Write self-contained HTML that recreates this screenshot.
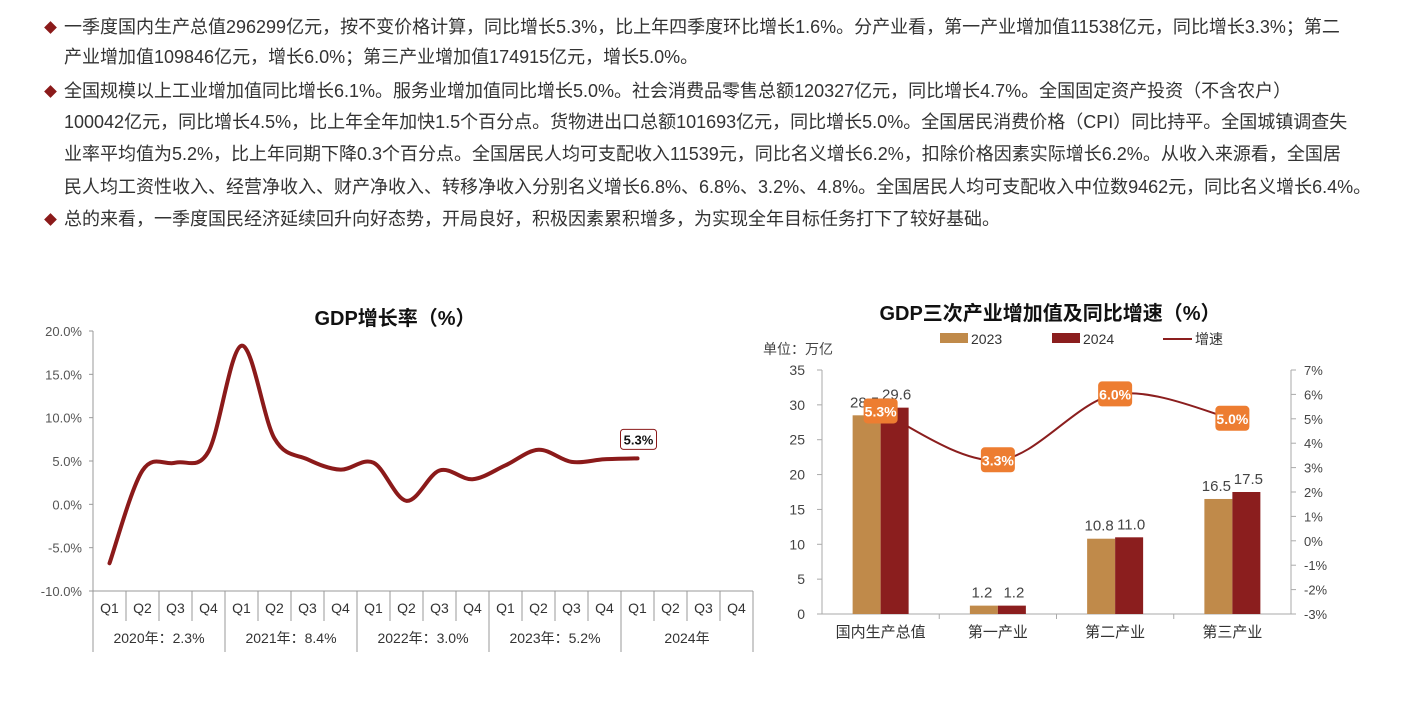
<!DOCTYPE html>
<html><head><meta charset="utf-8">
<style>
html,body{margin:0;padding:0;background:#fff;}
body{width:1403px;height:716px;position:relative;overflow:hidden;font-family:"Liberation Sans","Noto Sans CJK SC",sans-serif;}
.ln{position:absolute;left:64px;font-size:18px;color:#333;white-space:nowrap;line-height:20px;}
.bul{position:absolute;left:46px;width:9px;height:9px;background:#8b1a1a;transform:rotate(45deg);}
svg text{font-family:"Liberation Sans","Noto Sans CJK SC",sans-serif;}
</style></head>
<body>
<div>
<div class="bul" style="top:23px"></div>
<div class="ln" style="top:17px">一季度国内生产总值296299亿元，按不变价格计算，同比增长5.3%，比上年四季度环比增长1.6%。分产业看，第一产业增加值11538亿元，同比增长3.3%；第二</div>
<div class="ln" style="top:47px">产业增加值109846亿元，增长6.0%；第三产业增加值174915亿元，增长5.0%。</div>
<div class="bul" style="top:87px"></div>
<div class="ln" style="top:81px">全国规模以上工业增加值同比增长6.1%。服务业增加值同比增长5.0%。社会消费品零售总额120327亿元，同比增长4.7%。全国固定资产投资（不含农户）</div>
<div class="ln" style="top:112px">100042亿元，同比增长4.5%，比上年全年加快1.5个百分点。货物进出口总额101693亿元，同比增长5.0%。全国居民消费价格（CPI）同比持平。全国城镇调查失</div>
<div class="ln" style="top:144px">业率平均值为5.2%，比上年同期下降0.3个百分点。全国居民人均可支配收入11539元，同比名义增长6.2%，扣除价格因素实际增长6.2%。从收入来源看，全国居</div>
<div class="ln" style="top:177px">民人均工资性收入、经营净收入、财产净收入、转移净收入分别名义增长6.8%、6.8%、3.2%、4.8%。全国居民人均可支配收入中位数9462元，同比名义增长6.4%。</div>
<div class="bul" style="top:215px"></div>
<div class="ln" style="top:209px">总的来看，一季度国民经济延续回升向好态势，开局良好，积极因素累积增多，为实现全年目标任务打下了较好基础。</div>
</div>

<svg id="c1" width="1403" height="716" style="position:absolute;left:0;top:0"></svg>

<script>
const quarters=["Q1","Q2","Q3","Q4","Q1","Q2","Q3","Q4","Q1","Q2","Q3","Q4","Q1","Q2","Q3","Q4","Q1","Q2","Q3","Q4"];
const yearLabels=["2020年：2.3%","2021年：8.4%","2022年：3.0%","2023年：5.2%","2024年"];
const growth=[-6.8,3.9,4.8,6.1,18.3,7.6,5.2,4.0,4.8,0.4,3.9,2.9,4.5,6.3,4.9,5.2,5.3];
const yTicks=[20,15,10,5,0,-5,-10];

const inds=["国内生产总值","第一产业","第二产业","第三产业"];
const v2023=[28.5,1.2,10.8,16.5];
const v2024=[29.6,1.2,11.0,17.5];
const rate=[5.3,3.3,6.0,5.0];
const lTicks=[0,5,10,15,20,25,30,35];
const rTicks=[-3,-2,-1,0,1,2,3,4,5,6,7];

const NS="http://www.w3.org/2000/svg";
const svg=document.getElementById('c1');
function mk(t,a,p){const e=document.createElementNS(NS,t);for(const k in a)e.setAttribute(k,a[k]);(p||svg).appendChild(e);return e;}
function tx(x,y,s,a,p){const e=mk('text',Object.assign({x:x,y:y},a),p);e.textContent=s;return e;}

// ---- chart 1
const g1=mk('g',{});


const ax0=93,cw=33,yT=331,yB=591;
const ys=v=>yT+(20-v)*(yB-yT)/30;
const xs=i=>ax0+cw*(i+0.5);
const t1=tx(395,325,'GDP增长率（%）',{'font-size':20,'font-weight':'bold','text-anchor':'middle',fill:'#111'},g1);


yTicks.forEach(v=>{const t=tx(82,ys(v)+5,v.toFixed(1)+'%',{'font-size':13,'text-anchor':'end',fill:'#555'},g1);


mk('line',{x1:ax0-4,x2:ax0,y1:ys(v),y2:ys(v),stroke:'#999'},g1);});
mk('line',{x1:ax0,x2:ax0,y1:yT,y2:652,stroke:'#999'},g1);
mk('line',{x1:ax0,x2:ax0+cw*20,y1:yB,y2:yB,stroke:'#999'},g1);
quarters.forEach((q,i)=>{const t=tx(xs(i),613,q,{'font-size':14,'text-anchor':'middle',fill:'#333'},g1);


mk('line',{x1:ax0+cw*(i+1),x2:ax0+cw*(i+1),y1:yB,y2:(i%4==3)?652:621,stroke:'#999'},g1);});
yearLabels.forEach((y,j)=>{const t=tx(ax0+cw*(j*4+2),643,y,{'font-size':14,'text-anchor':'middle',fill:'#333'},g1);

});
function smooth(pts){let d='M'+pts[0][0]+','+pts[0][1];for(let i=0;i<pts.length-1;i++){const p0=pts[Math.max(0,i-1)],p1=pts[i],p2=pts[i+1],p3=pts[Math.min(pts.length-1,i+2)];
const c1x=p1[0]+(p2[0]-p0[0])/6,c1y=p1[1]+(p2[1]-p0[1])/6,c2x=p2[0]-(p3[0]-p1[0])/6,c2y=p2[1]-(p3[1]-p1[1])/6;d+=` C${c1x},${c1y} ${c2x},${c2y} ${p2[0]},${p2[1]}`;}return d;}
const gp=mk('path',{d:smooth(growth.map((v,i)=>[xs(i),ys(v)])),fill:'none',stroke:'#8b1a1a','stroke-width':4,'stroke-linecap':'round'},g1);


const li=growth.length-1;
mk('rect',{x:xs(li)-17,y:ys(growth[li])-29,width:36,height:20,rx:3,fill:'#fff',stroke:'#8b1a1a'},g1);
const dl=tx(xs(li)+1,ys(growth[li])-14,growth[li].toFixed(1)+'%',{'font-size':13,'font-weight':'bold','text-anchor':'middle',fill:'#111'},g1);



// ---- chart 2
const g2=mk('g',{});


const L=822,R=1291,T=370,B=614,gw=(R-L)/4,bw=28;
const yl=v=>B-v*(B-T)/35, yr=v=>B-(v+3)*(B-T)/10, gx=i=>L+gw*(i+0.5);
const t2=tx(1050,320,'GDP三次产业增加值及同比增速（%）',{'font-size':20,'font-weight':'bold','text-anchor':'middle',fill:'#111'},g2);


const un=tx(763,354,'单位：万亿',{'font-size':14,fill:'#444'},g2);


[['#c08a4a','2023',940],['#8b1e1e','2024',1052]].forEach(a=>{const lg=mk('g',{},g2);


mk('rect',{x:a[2],y:333,width:28,height:10,fill:a[0]},lg);tx(a[2]+31,344,a[1],{'font-size':14,fill:'#333'},lg);});
const lg3=mk('g',{},g2);


mk('line',{x1:1163,x2:1192,y1:339,y2:339,stroke:'#8b1e1e','stroke-width':2},lg3);tx(1195,344,'增速',{'font-size':14,fill:'#333'},lg3);
mk('line',{x1:L,x2:L,y1:T,y2:B,stroke:'#aaa'},g2);
mk('line',{x1:R,x2:R,y1:T,y2:B,stroke:'#aaa'},g2);
mk('line',{x1:L,x2:R,y1:B,y2:B,stroke:'#aaa'},g2);
lTicks.forEach(v=>{const t=tx(805,yl(v)+5,String(v),{'font-size':14,'text-anchor':'end',fill:'#444'},g2);


mk('line',{x1:L-5,x2:L,y1:yl(v),y2:yl(v),stroke:'#aaa'},g2);});
rTicks.forEach(v=>{const t=tx(1304,yr(v)+5,v+'%',{'font-size':13,fill:'#444'},g2);


mk('line',{x1:R,x2:R+5,y1:yr(v),y2:yr(v),stroke:'#aaa'},g2);});
inds.forEach((c,i)=>{
if(i>0)mk('line',{x1:L+gw*i,x2:L+gw*i,y1:B,y2:B+5,stroke:'#aaa'},g2);
const c0=tx(gx(i),637,c,{'font-size':15,'text-anchor':'middle',fill:'#333'},g2);


const b1=mk('rect',{x:gx(i)-bw,y:yl(v2023[i]),width:bw,height:B-yl(v2023[i]),fill:'#c08a4a'},g2);


const b2=mk('rect',{x:gx(i),y:yl(v2024[i]),width:bw,height:B-yl(v2024[i]),fill:'#8b1e1e'},g2);


const l1=tx(gx(i)-bw/2-2,yl(v2023[i])-8,v2023[i].toFixed(1),{'font-size':15,'text-anchor':'middle',fill:'#444'},g2);


const l2=tx(gx(i)+bw/2+2,yl(v2024[i])-8,v2024[i].toFixed(1),{'font-size':15,'text-anchor':'middle',fill:'#444'},g2);


});
const rp=mk('path',{d:smooth(rate.map((v,i)=>[gx(i),yr(v)])),fill:'none',stroke:'#8b1e1e','stroke-width':2},g2);


rate.forEach((v,i)=>{const bx=mk('rect',{x:gx(i)-17,y:yr(v)-13,width:34,height:25,rx:4,fill:'#ed7d31'},g2);


const t=tx(gx(i),yr(v)+5,v.toFixed(1)+'%',{'font-size':14,'font-weight':'bold','text-anchor':'middle',fill:'#fff'},g2);

});
</script>
</body></html>
